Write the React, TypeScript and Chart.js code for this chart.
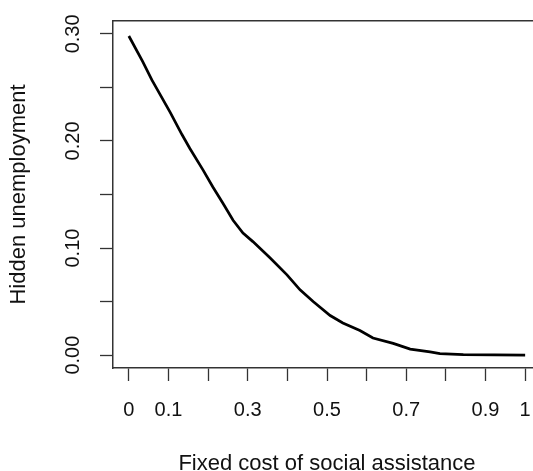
import { useEffect, useRef } from "react";
import { Chart, registerables } from "chart.js";

Chart.register(...registerables);

// fixed cost of social assistance (x) and hidden unemployment (y)
const costValues = [
  0.0, 0.035, 0.058, 0.104, 0.134, 0.154, 0.187, 0.212, 0.237, 0.263, 0.288,
  0.313, 0.356, 0.399, 0.432, 0.465, 0.508, 0.54, 0.583, 0.616, 0.667, 0.71,
  0.76, 0.785, 0.844, 1.0,
];
const hiddenValues = [
  0.298, 0.274, 0.257, 0.227, 0.206, 0.193, 0.173, 0.157, 0.142, 0.126, 0.114,
  0.106, 0.091, 0.075, 0.061, 0.05, 0.037, 0.03, 0.023, 0.016, 0.011, 0.0056,
  0.003, 0.0015, 0.0005, 0.0,
];

const xTickValues = [0, 0.1, 0.2, 0.3, 0.4, 0.5, 0.6, 0.7, 0.8, 0.9, 1];
const xTickLabels = ["0", "0.1", "", "0.3", "", "0.5", "", "0.7", "", "0.9", "1"];
const yTickValues = [0, 0.05, 0.1, 0.15, 0.2, 0.25, 0.3];
const yTickLabels = ["0.00", "", "0.10", "", "0.20", "", "0.30"];

const FONT = "'Liberation Sans', Arial, sans-serif";
const INK = "#111";
const FRAME = "#333";

export default function App() {
  const canvasRef = useRef<HTMLCanvasElement>(null);
  const chartRef = useRef<Chart | null>(null);

  useEffect(() => {
    if (!canvasRef.current) return;
    if (chartRef.current) chartRef.current.destroy();

    const ctx = canvasRef.current.getContext("2d");
    if (!ctx) return;

    chartRef.current = new Chart(ctx, {
      type: "line",
      data: {
        datasets: [
          {
            data: costValues.map((x, i) => ({ x, y: hiddenValues[i] })),
            borderColor: "#000",
            borderWidth: 2.7,
            pointRadius: 0,
            tension: 0,
            fill: false,
          },
        ],
      },
      options: {
        responsive: false,
        animation: false,
        layout: { padding: { top: 21, left: 0, right: 19, bottom: 0 } },
        plugins: {
          legend: { display: false },
          tooltip: { enabled: false },
        },
        scales: {
          x: {
            type: "linear",
            position: "bottom",
            min: -0.04,
            max: 1.04,
            afterBuildTicks: (scale: any) => {
              scale.ticks = xTickValues.map((v) => ({ value: v }));
            },
            afterFit: (scale: any) => {
              scale.height = 112;
            },
            ticks: {
              autoSkip: false,
              maxRotation: 0,
              minRotation: 0,
              padding: 17,
              color: INK,
              font: { family: FONT, size: 20 },
              callback: (_v: any, i: number) => xTickLabels[i],
            },
            grid: {
              drawOnChartArea: false,
              drawTicks: true,
              tickLength: 13,
              tickColor: FRAME,
              tickWidth: 1.3,
            },
            border: { display: true, color: FRAME, width: 1.5 },
            title: {
              display: true,
              text: "Fixed cost of social assistance",
              color: INK,
              font: { family: FONT, size: 22 },
              padding: { top: 0, bottom: 3 },
            },
          },
          x2: {
            type: "linear",
            position: "top",
            display: true,
            min: -0.04,
            max: 1.04,
            afterFit: (scale: any) => {
              scale.height = 0;
            },
            ticks: { display: false },
            grid: { display: false, drawTicks: false },
            border: { display: true, color: FRAME, width: 1.5 },
          },
          y: {
            type: "linear",
            position: "left",
            min: -0.012,
            max: 0.312,
            afterBuildTicks: (scale: any) => {
              scale.ticks = yTickValues.map((v) => ({ value: v }));
            },
            afterFit: (scale: any) => {
              scale.width = 113;
            },
            ticks: {
              autoSkip: false,
              minRotation: 90,
              maxRotation: 90,
              crossAlign: "center",
              padding: 7,
              color: INK,
              font: { family: FONT, size: 20 },
              callback: (_v: any, i: number) => yTickLabels[i],
            },
            grid: {
              drawOnChartArea: false,
              drawTicks: true,
              tickLength: 13,
              tickColor: FRAME,
              tickWidth: 1.3,
            },
            border: { display: true, color: FRAME, width: 1.5 },
            title: {
              display: true,
              text: "Hidden unemployment",
              color: INK,
              font: { family: FONT, size: 22 },
              padding: { top: 6, bottom: 0 },
            },
          },
        },
      },
    });

    return () => {
      if (chartRef.current) {
        chartRef.current.destroy();
        chartRef.current = null;
      }
    };
  }, []);

  return (
    <div
      style={{
        position: "fixed",
        left: 0,
        top: 0,
        width: 533,
        height: 471,
        overflow: "hidden",
        background: "#fff",
      }}
    >
      <canvas ref={canvasRef} width={560} height={480} style={{ display: "block" }} />
    </div>
  );
}
